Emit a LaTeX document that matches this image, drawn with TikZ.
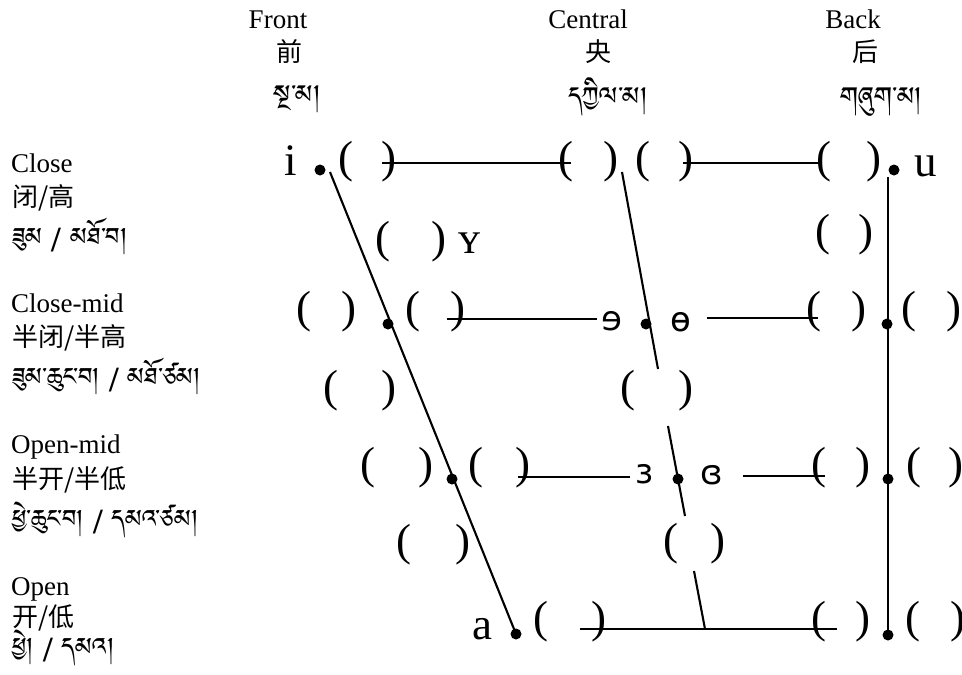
\documentclass[tikz,border=0pt]{standalone}
\usepackage{fontspec}
\setmainfont{Liberation Serif}
\newfontfamily\cjk{Noto Sans CJK SC}
\newfontfamily\ipasans{DejaVu Sans}
\IfFontExistsTF{Jomolhari}{\newfontfamily\tib[Script=Tibetan]{Jomolhari}}{%
 \IfFontExistsTF{Tibetan Machine Uni}{\newfontfamily\tib[Script=Tibetan]{Tibetan Machine Uni}}{%
  \IfFontExistsTF{Noto Serif Tibetan}{\newfontfamily\tib[Script=Tibetan]{Noto Serif Tibetan}}{%
   \newfontfamily\tib{DejaVu Sans}}}}
\newcommand\vpair[4]{\node[par] (#1l) at (#2,#4) {(}; \node[par] (#1r) at (#3,#4) {)};}
\begin{document}
\begin{tikzpicture}[x=1pt,y=-1pt,
  lab/.style={font=\fontsize{27}{32}\selectfont, inner sep=0, anchor=base west},
  hd/.style={font=\fontsize{27}{32}\selectfont, inner sep=0, anchor=base},
  cjkl/.style={font=\cjk\fontsize{26}{30}\selectfont, inner sep=0, anchor=base west},
  cjkh/.style={cjkl, anchor=base},
  tibl/.style={font=\tib\fontsize{31}{36}\selectfont, inner sep=0, anchor=base west},
  tibh/.style={font=\tib\fontsize{32}{36}\selectfont, inner sep=0, anchor=base},
  sym/.style={font=\fontsize{45}{50}\selectfont, inner sep=0, anchor=base},
  par/.style={font=\fontsize{45}{50}\selectfont, inner sep=0, anchor=center},
  ipa/.style={font=\ipasans\fontsize{34}{40}\selectfont, inner sep=0, anchor=base},
  vdot/.style={circle, fill=black, inner sep=0, minimum size=11pt},
  ln/.style={line width=2.1pt}]
\useasboundingbox (0,0) rectangle (962,675);
% column headings
\node[hd] (hfront) at (278,28) {Front};
\node[cjkh] (cfront) at (289,61) {前};
\node[tibh] (tfront) at (297,109) {སྔ་མ།};
\node[hd] (hcent) at (588,28) {Central};
\node[cjkh] (ccent) at (598,61) {央};
\node[tibh] (tcent) at (608,111) {དཀྱིལ་མ།};
\node[hd] (hback) at (853,28) {Back};
\node[cjkh] (cback) at (865,61) {后};
\node[tibh] (tback) at (881,111) {གཞུག་མ།};
% row headings
\node[lab] (lclose) at (11,172) {Close};
\node[cjkl] (cclose) at (12,206) {闭/高};
\node[tibl] (tclose) at (12,251) {ཟུམ / མཐོ་བ།};
\node[lab] (lcm) at (11,312) {Close-mid};
\node[cjkl] (ccm) at (12,346) {半闭/半高};
\node[tibl] (tcm) at (12,391) {ཟུམ་ཆུང་བ། / མཐོ་ཙམ།};
\node[lab] (lom) at (11,453) {Open-mid};
\node[cjkl] (com) at (12,488) {半开/半低};
\node[tibl] (tom) at (12,533) {ཕྱེ་ཆུང་བ། / དམའ་ཙམ།};
\node[lab] (lopen) at (11,595) {Open};
\node[cjkl] (copen) at (12,626) {开/低};
\node[tibl] (topen) at (12,661) {ཕྱེ། / དམའ།};
% vowel symbols
\node[sym] (vi) at (291,175) {i};
\node[sym] (vu) at (926,176) {u};
\node[sym] (va) at (482,639) {a};
\node[sym] (vY) at (470,253) {ʏ};
\node[ipa] (vschwa) at (612,330) {ɘ};
\node[ipa] (vbaro) at (681,331) {ɵ};
\node[ipa] (veps) at (645,483) {ɜ};
\node[ipa] (vceps) at (712,484) {ɞ};
% parentheses
\vpair{c1}{346}{389}{162}
\vpair{c2}{566}{611}{162}
\vpair{c3}{643}{686}{162}
\vpair{c4}{824}{874}{162}
\vpair{nc1}{383}{439}{242}
\vpair{nc2}{823}{866}{235}
\vpair{cm1}{304}{349}{312}
\vpair{cm2}{413}{458}{312}
\vpair{cm3}{814}{859}{312}
\vpair{cm4}{909}{954}{312}
\vpair{m1}{331}{389}{391}
\vpair{m2}{628}{686}{391}
\vpair{om1}{368}{426}{468}
\vpair{om2}{476}{523}{468}
\vpair{om3}{819}{863}{468}
\vpair{om4}{914}{956}{468}
\vpair{no1}{404}{463}{545}
\vpair{no2}{671}{718}{544}
\vpair{o1}{541}{599}{622}
\vpair{o2}{819}{863}{622}
\vpair{o3}{913}{958}{622}
% dots
\node[vdot] (di) at (320,170) {};
\node[vdot] (du) at (894,170) {};
\node[vdot] (dcmf) at (388,324) {};
\node[vdot] (dcmc) at (646,324) {};
\node[vdot] (dcmb) at (887,324) {};
\node[vdot] (domf) at (452,479) {};
\node[vdot] (domc) at (678,479) {};
\node[vdot] (domb) at (888,479) {};
\node[vdot] (da) at (516,634) {};
\node[vdot] (dob) at (888,635) {};
% line ends
\coordinate (ftop) at (330,172);
\coordinate (ctop) at (622,172);
\coordinate (cg1a) at (658,369);
\coordinate (cg1b) at (668,426);
\coordinate (cg2a) at (685,516);
\coordinate (cg2b) at (694,571);
\coordinate (cbot) at (705,629);
\coordinate (btop) at (888,177);
\coordinate (h1a) at (382,163); \coordinate (h1b) at (571,163);
\coordinate (h2a) at (683,163); \coordinate (h2b) at (820,163);
\coordinate (h3a) at (447,319); \coordinate (h3b) at (597,319);
\coordinate (h4a) at (707,318); \coordinate (h4b) at (818,318);
\coordinate (h5a) at (518,477); \coordinate (h5b) at (630,477);
\coordinate (h6a) at (743,476); \coordinate (h6b) at (825,476);
\coordinate (h7a) at (580,629); \coordinate (h7b) at (837,629);
% slanted and vertical lines
\draw[ln] (ftop) -- (da.center);
\draw[ln] (ctop) -- (cg1a);
\draw[ln] (cg1b) -- (cg2a);
\draw[ln] (cg2b) -- (cbot);
\draw[ln] (btop) -- (dob.center);
% horizontal lines
\draw[ln] (h1a) -- (h1b);
\draw[ln] (h2a) -- (h2b);
\draw[ln] (h3a) -- (h3b);
\draw[ln] (h4a) -- (h4b);
\draw[ln] (h5a) -- (h5b);
\draw[ln] (h6a) -- (h6b);
\draw[ln] (h7a) -- (h7b);
\end{tikzpicture}
\end{document}
